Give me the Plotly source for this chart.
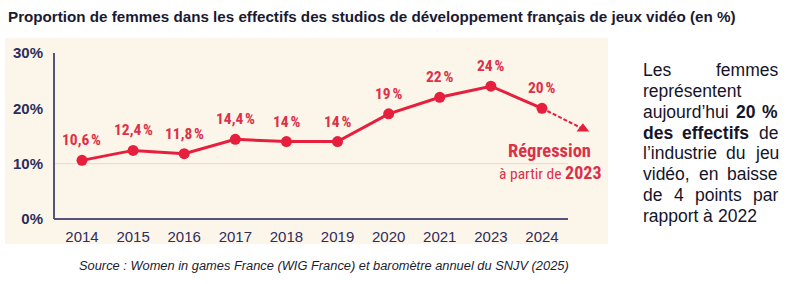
import plotly.graph_objects as go

# ---------------- data ----------------
years = ["2014", "2015", "2016", "2017", "2018", "2019", "2020", "2021", "2023", "2024"]
values = [10.6, 12.4, 11.8, 14.4, 14, 14, 19, 22, 24, 20]
regression_end_value = 16.3      # end of dashed "Régression" arrow
regression_step = 0.8            # how far (in categories) the arrow goes past 2024
y_tick_values = [0, 10, 20, 30]
y_tick_labels = ["0%", "10%", "20%", "30%"]

title_text = "Proportion de femmes dans les effectifs des studios de développement français de jeux vidéo (en %)"
source_text = "Source : Women in games France (WIG France) et baromètre annuel du SNJV (2025)"

# ---------------- layout geometry ----------------
W, H = 794, 284
L, R, T, B = 55, 194, 53, 65
PW, PH = W - L - R, H - T - B

def px(x):
    return (x - L) / PW

def py(y):
    return (H - B - y) / PH

RED = "#e61f3d"
LABEL_RED = "#dc3049"
NAVY = "#2e2c5e"
AXIS = "#56547f"
CREAM = "#fcf6ea"
NARROW = "Liberation Sans Narrow, Arial Narrow, Roboto Condensed, Liberation Sans, Arial"
SANS = "Liberation Sans, Arial, Helvetica, sans-serif"

xs = list(range(len(years)))

fig = go.Figure()

# main line
fig.add_trace(go.Scatter(
    x=xs, y=values, mode="lines+markers",
    line=dict(color=RED, width=3),
    marker=dict(color=RED, size=11),
    cliponaxis=False, hoverinfo="skip", showlegend=False,
))

# dashed regression arrow
fig.add_trace(go.Scatter(
    x=[xs[-1], xs[-1] + regression_step], y=[values[-1], regression_end_value],
    mode="lines",
    line=dict(color=RED, width=2, dash="4px,2px"),
    cliponaxis=False, hoverinfo="skip", showlegend=False,
))
fig.add_trace(go.Scatter(
    x=[xs[-1] + regression_step], y=[regression_end_value],
    mode="markers",
    marker=dict(color=RED, size=11, symbol="triangle-up"),
    cliponaxis=False, hoverinfo="skip", showlegend=False,
))

annotations = []
# data labels
for x, v in zip(xs, values):
    lab = (f"{v:g}".replace(".", ",")) + "\u202f%"
    annotations.append(dict(
        x=x, y=v, xref="x", yref="y", text=f"<b>{lab}</b>", showarrow=False,
        yshift=20, font=dict(family=NARROW, size=15.5, color=LABEL_RED),
        xanchor="center", yanchor="middle",
    ))

# Régression annotation
annotations.append(dict(
    x=px(549), y=py(151), xref="paper", yref="paper", showarrow=False,
    text="<b>Régression</b>", font=dict(family=NARROW, size=18.5, color=LABEL_RED),
    xanchor="center", yanchor="middle",
))
annotations.append(dict(
    x=px(550), y=py(172), xref="paper", yref="paper", showarrow=False,
    text="à partir de <b><span style='font-size:18px'>2023</span></b>",
    font=dict(family=NARROW, size=15.5, color=LABEL_RED),
    xanchor="center", yanchor="middle",
))

# source
annotations.append(dict(
    x=px(78), y=py(265), xref="paper", yref="paper", showarrow=False,
    text=f"<i>{source_text}</i>", font=dict(family=SANS, size=12.85, color="#1c1c30"),
    xanchor="left", yanchor="middle", borderpad=0,
))

# ---------------- right justified paragraph ----------------
REG = {" ": 278, "a": 556, "b": 556, "c": 500, "d": 556, "e": 556, "f": 278, "h": 556,
       "i": 222, "j": 222, "l": 222, "m": 833, "n": 556, "o": 556, "p": 556, "r": 333,
       "s": 500, "t": 278, "u": 556, "v": 500, "é": 556, "à": 556, "’": 222, ",": 278,
       "L": 556, "%": 889}
BOLD = {" ": 278, "d": 611, "e": 556, "s": 556, "f": 333, "c": 556, "t": 333, "i": 278, "%": 889}
for dgt in "0123456789":
    REG[dgt] = 556
    BOLD[dgt] = 556

FS = 17.5
X0, X1 = 643, 778
para_lines = [
    [("Les", False), ("femmes", False)],
    [("représentent", False)],
    [("aujourd’hui", False), ("20", True), ("%", True)],
    [("des", True), ("effectifs", True), ("de", False)],
    [("l’industrie", False), ("du", False), ("jeu", False)],
    [("vidéo,", False), ("en", False), ("baisse", False)],
    [("de", False), ("4", False), ("points", False), ("par", False)],
    [("rapport", False), ("à", False), ("2022", False)],
]
line_y0, line_dy = 70, 20.85

def wwidth(word, bold):
    tab = BOLD if bold else REG
    return sum(tab.get(ch, 556) for ch in word) * FS / 1000

for i, words in enumerate(para_lines):
    yy = line_y0 + i * line_dy
    widths = [wwidth(w, b) for w, b in words]
    justify = len(words) > 1 and i < len(para_lines) - 1
    gap = (X1 - X0 - sum(widths)) / (len(words) - 1) if justify else 278 * FS / 1000
    x = X0
    for (w, b), wd in zip(words, widths):
        annotations.append(dict(
            x=px(x), y=py(yy), xref="paper", yref="paper", showarrow=False,
            text=f"<b>{w}</b>" if b else w,
            font=dict(family=SANS, size=FS, color="#14142a"),
            xanchor="left", yanchor="middle", borderpad=0, borderwidth=0,
        ))
        x += wd + gap

shapes = [
    dict(type="rect", xref="paper", yref="paper", x0=px(5), x1=px(608), y0=py(244), y1=py(38),
         fillcolor=CREAM, line=dict(width=0), layer="below"),
    dict(type="line", xref="paper", yref="y", x0=0, x1=px(568), y0=10, y1=10,
         line=dict(color="#dedad2", width=1), layer="below"),
    # x axis line (ends before the regression arrow)
    dict(type="line", xref="paper", yref="paper", x0=px(54), x1=px(568), y0=0, y1=0,
         line=dict(color=AXIS, width=2), layer="above"),
]

fig.update_layout(
    width=W, height=H,
    margin=dict(l=L, r=R, t=T, b=B, pad=0),
    paper_bgcolor="white", plot_bgcolor="rgba(0,0,0,0)",
    title=dict(text=f"<b>{title_text}</b>", x=8 / W, xref="container", xanchor="left",
               y=1 - 17 / H, yref="container", yanchor="middle",
               font=dict(family=SANS, size=15.2, color="#1a1a33")),
    annotations=annotations, shapes=shapes, showlegend=False,
)
fig.update_xaxes(
    range=[-0.528, 10.135], tickvals=xs, ticktext=years,
    showline=False, showgrid=False, zeroline=False,
    ticks="outside", ticklen=4, tickcolor="rgba(0,0,0,0)",
    tickfont=dict(family=SANS, size=15, color=NAVY),
)
fig.update_yaxes(
    range=[0, 30], tickvals=y_tick_values, ticktext=y_tick_labels,
    showline=True, linecolor=AXIS, linewidth=2, showgrid=False, zeroline=False,
    ticks="outside", ticklen=7, tickcolor="rgba(0,0,0,0)",
    tickfont=dict(family=SANS, size=15, color=NAVY, weight="bold"),
)

fig.write_html("out.html")
